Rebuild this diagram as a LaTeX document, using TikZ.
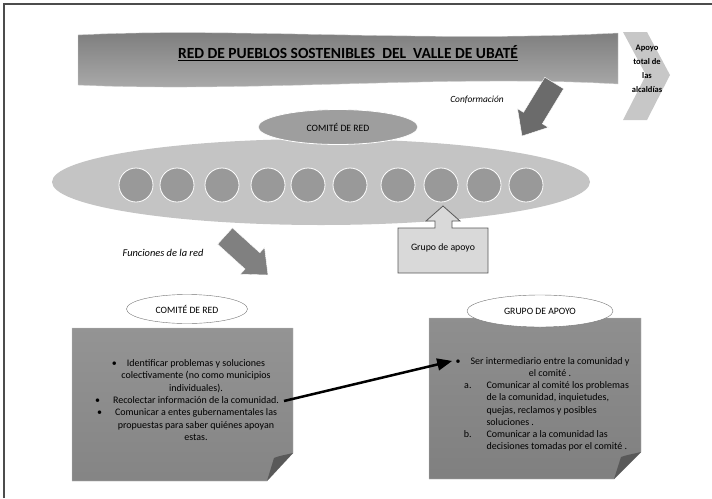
\documentclass[tikz,border=0pt]{standalone}
\usepackage{fontspec}
\setmainfont{Carlito}
\usetikzlibrary{shapes,arrows}

\begin{document}
\begin{tikzpicture}[x=1pt,y=-1pt,
  texto caja/.style={font=\fontsize{10}{12.3}\selectfont},
  etiqueta/.style={ellipse, fill=white, draw=black!55, font=\fontsize{9.7}{11}\selectfont},
  flecha bloque/.style={fill=black!55, draw=white, thin}]
\useasboundingbox (0,0) rectangle (712,498);

% frame
\draw [black!70, line width=1.5pt] (4,498) -- (4,4) -- (712,4);

% banner
\shade [top color = black!52, bottom color = black!32, draw = black!20]
  (78,35) .. controls (230,27) and (430,43) .. (618,33) -- (618,84)
  .. controls (450,74) and (250,93) .. (78,85) -- cycle;
\node [font=\fontsize{15.5}{18}\selectfont\bfseries] (titulo) at (348,53)
  {\underline{RED DE PUEBLOS SOSTENIBLES\ \ DEL\ \ VALLE DE UBATÉ}};

% chevron
\fill [black!22] (623,32) -- (647,32) -- (670,75) -- (647,120) -- (623,120) -- (646,75) -- cycle;
\node [align=center, font=\fontsize{8.5}{14}\selectfont\bfseries] (alcaldias) at (647,69)
  {Apoyo\\total de\\las\\alcaldías};

% conformacion arrow
\begin{scope}[shift={(522,136)}, rotate=238.7]
\draw [flecha bloque, fill=black!58] (0,0) -- (-21,18) -- (-21,11) -- (-62,11) -- (-62,-11)
  -- (-21,-11) -- (-21,-18) -- cycle;
\end{scope}
\node [font=\fontsize{9.4}{11}\selectfont\itshape] (conformacion) at (477,100) {Conformación};

% network ellipse
\fill [black!23] (321,182) ellipse [x radius=269pt, y radius=43pt];
\node [ellipse, fill=black!38, draw=white, thick, minimum width=160pt, minimum height=35pt,
  font=\fontsize{9.7}{11}\selectfont] (comite_red) at (338,127) {COMITÉ DE RED};

% municipalities
\foreach \x in {136,177,222,268,308,350,398,441,484,526}
  \filldraw [fill=black!40, draw=white, thick] (\x,185) circle [radius=17pt];

% grupo de apoyo callout
\filldraw [fill=black!15, draw=black!65, thick] (398,228) -- (435,228) -- (435,221) -- (426,221)
  -- (443,206) -- (460,221) -- (452,221) -- (452,228) -- (488,228) -- (488,273) -- (398,273) -- cycle;
\node [font=\fontsize{9.8}{11}\selectfont] (grupo) at (443,248) {Grupo de apoyo};

% funciones arrow
\begin{scope}[shift={(268,275)}, rotate=-42.2]
\draw [flecha bloque, fill=black!50] (0,0) -- (-21,18) -- (-21,11) -- (-58,11) -- (-58,-11)
  -- (-21,-11) -- (-21,-18) -- cycle;
\end{scope}
\node [font=\fontsize{10.4}{12}\selectfont\itshape] (funciones) at (163,253) {Funciones de la red};

% note comite
\shade [top color = black!42, bottom color = black!48, draw = black!25]
  (72,328) -- (293,328) -- (293,453) -- (267,481) -- (72,481) -- cycle;
\fill [black!65] (293,453) .. controls (285,455) and (278,456) .. (274,458) -- (267,481) -- cycle;

% note grupo
\shade [top color = black!44, bottom color = black!50, draw = black!25]
  (429,318) -- (641,318) -- (641,452) -- (614,479) -- (429,479) -- cycle;
\fill [black!65] (641,452) .. controls (633,454) and (626,455) .. (621,457) -- (614,479) -- cycle;

% labels
\node [etiqueta, minimum width=121pt, minimum height=29pt] (comite_etq) at (187,309) {COMITÉ DE RED};
\node [etiqueta, minimum width=146pt, minimum height=32pt] (grupo_etq) at (540,311) {GRUPO DE APOYO};

% texts
\node [texto caja, align=center] (comite_texto) at (196,400)
  {\llap{\textbullet\hspace{10pt}}Identificar problemas y soluciones\\
   colectivamente (no como municipios\\
   individuales).\\
   \llap{\textbullet\hspace{13pt}}Recolectar información de la comunidad.\\
   \llap{\textbullet\hspace{13pt}}Comunicar a entes gubernamentales las\\
   propuestas para saber quiénes apoyan\\
   estas.};
\node [texto caja, align=center] (grupo_texto) at (550,367)
  {\llap{\textbullet\hspace{10pt}}Ser intermediario entre la comunidad y\\el comité .};
\node [texto caja, align=left, anchor=west] (grupo_lista) at (483,416.5)
  {\llap{a.\hspace{15pt}}Comunicar al comité los problemas\\
   de la comunidad, inquietudes,\\
   quejas, reclamos y posibles\\
   soluciones .\\
   \llap{b.\hspace{15pt}}Comunicar a la comunidad las\\
   decisiones tomadas por el comité .};

% link
\coordinate (enlace_ini) at (284,401);
\coordinate (enlace_fin) at (452,361);
\draw [->, line width=2.5pt, > = triangle 45] (enlace_ini) -- (enlace_fin);
\end{tikzpicture}
\end{document}
